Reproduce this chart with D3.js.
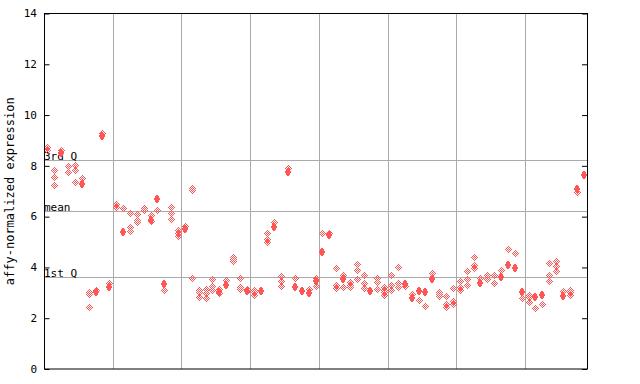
<!DOCTYPE html>
<html>
<head>
<meta charset="utf-8">
<script src="https://cdn.jsdelivr.net/npm/d3@7"></script>
<style>
  body { margin: 0; background: #fff; }
  svg { display: block; }
  text { font-family: "DejaVu Sans Mono", monospace; fill: #000; }
</style>
</head>
<body>
<div id="root"></div>
<script>
// Valores: por muestra, rombos huecos y rombos rellenos.
const hollowValues = [
  [8.70, 8.60], [7.79, 7.52, 7.20], [8.60], [7.95, 7.71], [8.00, 7.79, 7.32],
  [7.48], [2.98, 2.92, 2.40], [3.07], [9.25], [3.35],
  [6.45, 6.35], [6.30], [6.10, 5.55, 5.38], [6.08, 5.82, 5.74], [6.30, 6.22],
  [6.03, 5.80], [6.22], [3.07], [6.34, 6.09, 5.86], [5.42, 5.30, 5.19],
  [5.58], [7.08, 7.02, 3.54], [3.08, 2.99, 2.79], [3.11, 2.96, 2.76], [3.50, 3.23, 3.07],
  [3.10, 2.97], [3.45], [4.38, 4.30, 4.21], [3.55, 3.20, 3.10], [3.12, 3.02],
  [3.08, 2.98, 2.88], [], [5.32, 5.08, 4.98], [5.75], [3.62, 3.43, 3.24],
  [7.86], [3.54], [], [3.10], [3.54, 3.23],
  [5.31], [5.30], [3.94, 3.25, 3.16], [3.66, 3.19], [3.37, 3.28, 3.18],
  [4.09, 3.87, 3.50], [3.66, 3.36, 3.16], [], [3.55, 3.38, 3.12], [3.18, 3.08, 2.99, 2.89],
  [3.66, 3.26, 3.07], [3.99, 3.35, 3.19], [3.21], [2.92], [2.67],
  [2.45], [3.74], [3.00, 2.90, 2.82], [2.84, 2.51, 2.40], [3.15, 2.63, 2.53],
  [3.42, 3.19, 3.09], [3.82, 3.52, 3.27], [4.37, 4.04, 3.94], [3.54], [3.67, 3.50],
  [3.67, 3.34], [3.87], [4.69], [4.54], [2.76],
  [2.89, 2.80, 2.60], [2.36], [2.52], [4.14, 3.66, 3.42], [4.22, 4.02, 3.83],
  [3.04], [3.08, 2.99, 2.89], [6.93], []
];
const filledValues = [
  [], [], [8.50], [], [],
  [7.30], [], [3.03], [9.16], [3.22],
  [], [5.38], [], [], [],
  [5.88], [6.70], [3.36], [], [],
  [5.50], [], [], [], [],
  [3.04], [3.29], [], [], [3.08],
  [], [3.06], [], [5.58], [],
  [7.76], [3.22], [3.09], [2.98], [3.46],
  [4.59], [5.27], [], [3.54], [],
  [], [], [3.08], [], [],
  [], [], [3.34], [2.79], [3.08],
  [3.04], [3.53], [], [], [],
  [], [], [], [3.40], [],
  [], [3.61], [4.08], [3.96], [3.02],
  [], [2.82], [2.90], [], [],
  [2.86], [], [7.07], [7.65]
];
const groupBreaks = [10, 20, 30, 40, 50, 60, 70];
const yTicks = [0, 2, 4, 6, 8, 10, 12, 14];
const refLabels = ["3rd Q", "mean", "1st Q"];
const refValues = [8.24, 6.22, 3.62];

const width = 640;
const height = 384;
const margin = { left: 44, right: 53, top: 13.5, bottom: 15 };
const red = "#ff5555";

const svg = d3.select("#root")
  .append("svg")
    .attr("width", width)
    .attr("height", height);

const xScale = d3.scaleLinear()
  .domain([0, hollowValues.length])
  .range([margin.left, width - margin.right]);

const yScale = d3.scaleLinear()
  .domain([0, 14])
  .range([height - margin.bottom, margin.top]);

// Patrón de tablero para los rombos huecos.
const pattern = svg.append("defs")
  .append("pattern")
    .attr("id", "checker")
    .attr("patternUnits", "userSpaceOnUse")
    .attr("width", 2)
    .attr("height", 2);
pattern.append("rect")
    .attr("x", 0).attr("y", 0).attr("width", 1).attr("height", 1)
    .attr("fill", red);
pattern.append("rect")
    .attr("x", 1).attr("y", 1).attr("width", 1).attr("height", 1)
    .attr("fill", red);

// Rejilla vertical entre grupos.
svg.append("g")
  .selectAll("line")
  .data(groupBreaks)
  .enter()
  .append("line")
    .attr("x1", d => Math.round(xScale(d)) + 0.5)
    .attr("x2", d => Math.round(xScale(d)) + 0.5)
    .attr("y1", yScale(14))
    .attr("y2", yScale(0))
    .attr("stroke", "#aaaaaa");

// Líneas de cuartiles y media.
svg.append("g")
  .selectAll("line")
  .data(refValues)
  .enter()
  .append("line")
    .attr("x1", xScale(0))
    .attr("x2", xScale(hollowValues.length))
    .attr("y1", d => Math.round(yScale(d)) + 0.5)
    .attr("y2", d => Math.round(yScale(d)) + 0.5)
    .attr("stroke", "#aaaaaa");

svg.append("g")
  .selectAll("text")
  .data(refValues)
  .enter()
  .append("text")
    .text((d, i) => refLabels[i])
    .attr("x", xScale(0))
    .attr("y", d => Math.round(yScale(d)))
    .style("font-size", "11px");

// Rombos.
const hollowPts = hollowValues.flatMap((vs, i) => vs.map(v => ({ i, v })));
const filledPts = filledValues.flatMap((vs, i) => vs.map(v => ({ i, v })));

svg.append("g")
  .selectAll("path")
  .data(hollowPts)
  .enter()
  .append("path")
    .attr("transform", d => `translate(${Math.round(xScale(d.i + 0.5))}, ${Math.round(yScale(d.v))})`)
    .attr("d", "M0,-4L4,0L0,4L-4,0Z")
    .attr("fill", "url(#checker)")
    .attr("shape-rendering", "crispEdges");

svg.append("g")
  .selectAll("path")
  .data(filledPts)
  .enter()
  .append("path")
    .attr("transform", d => `translate(${Math.round(xScale(d.i + 0.5))}, ${Math.round(yScale(d.v))})`)
    .attr("d", "M0,-4.5L3.5,0L0,4.5L-3.5,0Z")
    .attr("fill", red)
    .attr("shape-rendering", "crispEdges");

// Marco y ejes.
svg.append("rect")
    .attr("x", xScale(0) + 0.5)
    .attr("y", yScale(14))
    .attr("width", xScale(hollowValues.length) - xScale(0))
    .attr("height", yScale(0) - yScale(14))
    .attr("fill", "none")
    .attr("stroke", "#000")
    .attr("stroke-width", 1);

svg.append("g")
    .attr("transform", `translate(${xScale(0) + 0.5}, 0)`)
    .call(d3.axisRight(yScale).tickValues(yTicks).tickSize(5).tickFormat(""))
    .call(g => g.select(".domain").remove());

svg.append("g")
    .attr("transform", `translate(${xScale(hollowValues.length)}, 0)`)
    .call(d3.axisLeft(yScale).tickValues(yTicks).tickSize(5).tickFormat(""))
    .call(g => g.select(".domain").remove());

svg.append("g")
  .selectAll("text")
  .data(yTicks)
  .enter()
  .append("text")
    .text(d => d)
    .attr("x", xScale(0) - 7)
    .attr("y", d => yScale(d))
    .attr("dy", "0.35em")
    .attr("text-anchor", "end")
    .style("font-size", "11px");

svg.append("text")
    .text("affy-normalized expression")
    .attr("transform", `translate(14, ${(yScale(0) + yScale(14)) / 2})rotate(-90)`)
    .attr("text-anchor", "middle")
    .style("font-size", "12px");
</script>
</body>
</html>
